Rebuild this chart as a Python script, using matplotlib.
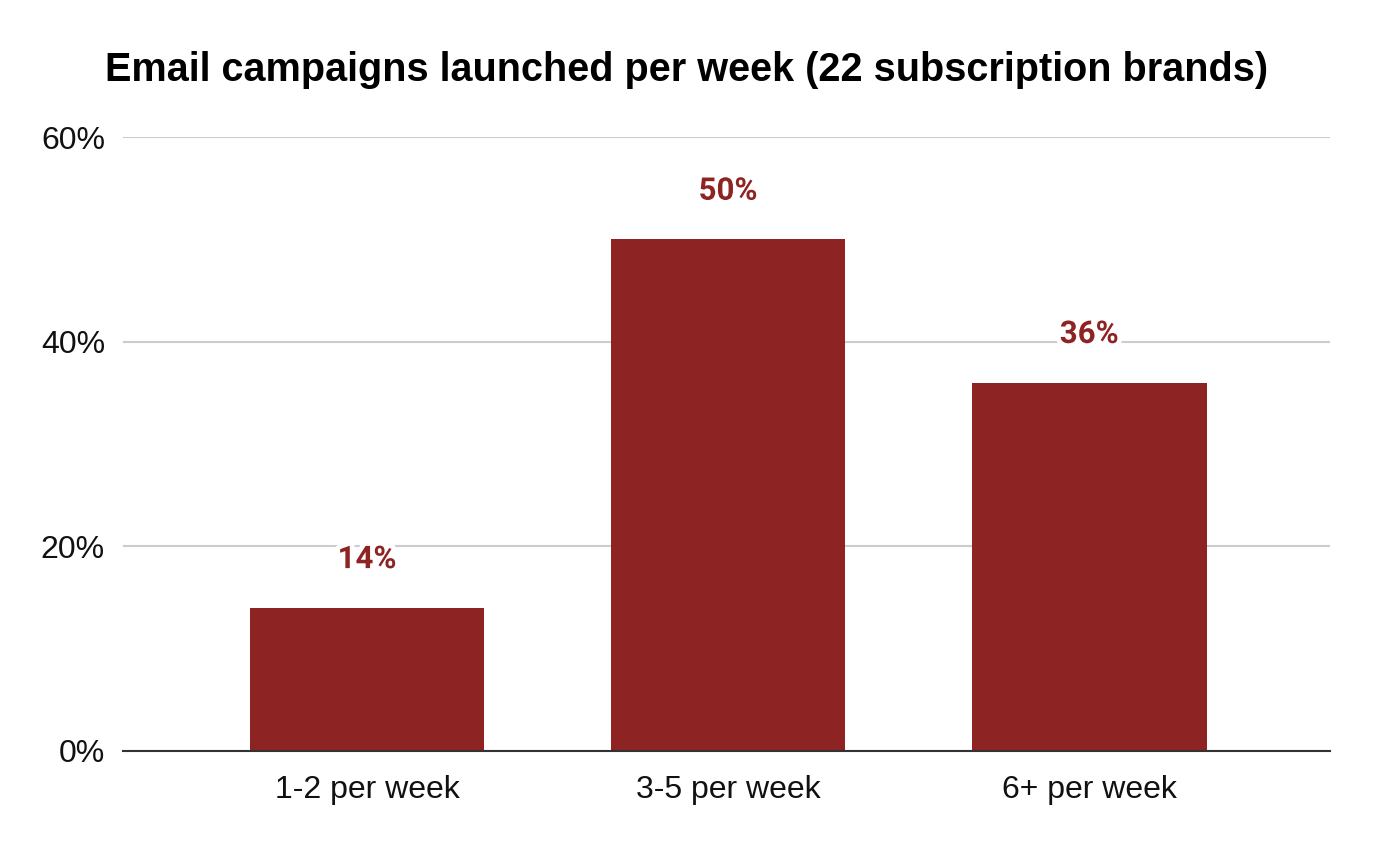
import matplotlib
matplotlib.use("Agg")
import matplotlib.pyplot as plt
import matplotlib.patheffects as pe
from matplotlib.ticker import FuncFormatter

categories = ["1-2 per week", "3-5 per week", "6+ per week"]
values = [0.14, 0.50, 0.36]
value_labels = ["14%", "50%", "36%"]
yticks = [0.0, 0.2, 0.4, 0.6]

title = "Email campaigns launched per week (22 subscription brands)"
bar_color = "#8E2323"

fig = plt.figure(figsize=(13.74, 8.48), dpi=100)
ax = fig.add_axes([0.0895, 0.1144, 0.8785, 0.724])

x = list(range(len(categories)))
ax.bar(x, values, width=0.65, color=bar_color, zorder=2)

for xi, v, lab in zip(x, values, value_labels):
    ax.annotate(lab, (xi, v), xytext=(0, 35), textcoords="offset points",
                ha="center", va="center", fontsize=22.5, fontweight="bold",
                family="Roboto", color=bar_color, zorder=4,
                path_effects=[pe.withStroke(linewidth=7, foreground="white")])

ax.set_xlim(-0.676, 2.667)
ax.set_ylim(0, 0.6)
ax.set_yticks(yticks)
ax.yaxis.set_major_formatter(FuncFormatter(lambda v, p: f"{v*100:.0f}%"))
ax.set_xticks(x)
ax.set_xticklabels(categories)

ax.grid(axis="y", color="#CCCCCC", linewidth=1.5, zorder=0)
ax.set_axisbelow(True)
for s in ["top", "right", "left"]:
    ax.spines[s].set_visible(False)
ax.spines["bottom"].set_color("#333333")
ax.spines["bottom"].set_linewidth(1.5)
ax.spines["bottom"].set_zorder(3)

ax.tick_params(axis="both", length=0, labelsize=23, colors="#111111")
ax.tick_params(axis="y", pad=13)
ax.tick_params(axis="x", pad=17.5)
for t in ax.get_xticklabels() + ax.get_yticklabels():
    t.set_family("Liberation Sans")

fig.text(0.5, 0.917, title, ha="center", va="center", fontsize=28.5,
         fontweight="bold", family="Liberation Sans", color="#000000")

fig.savefig("out.png", dpi=100, facecolor="white")
